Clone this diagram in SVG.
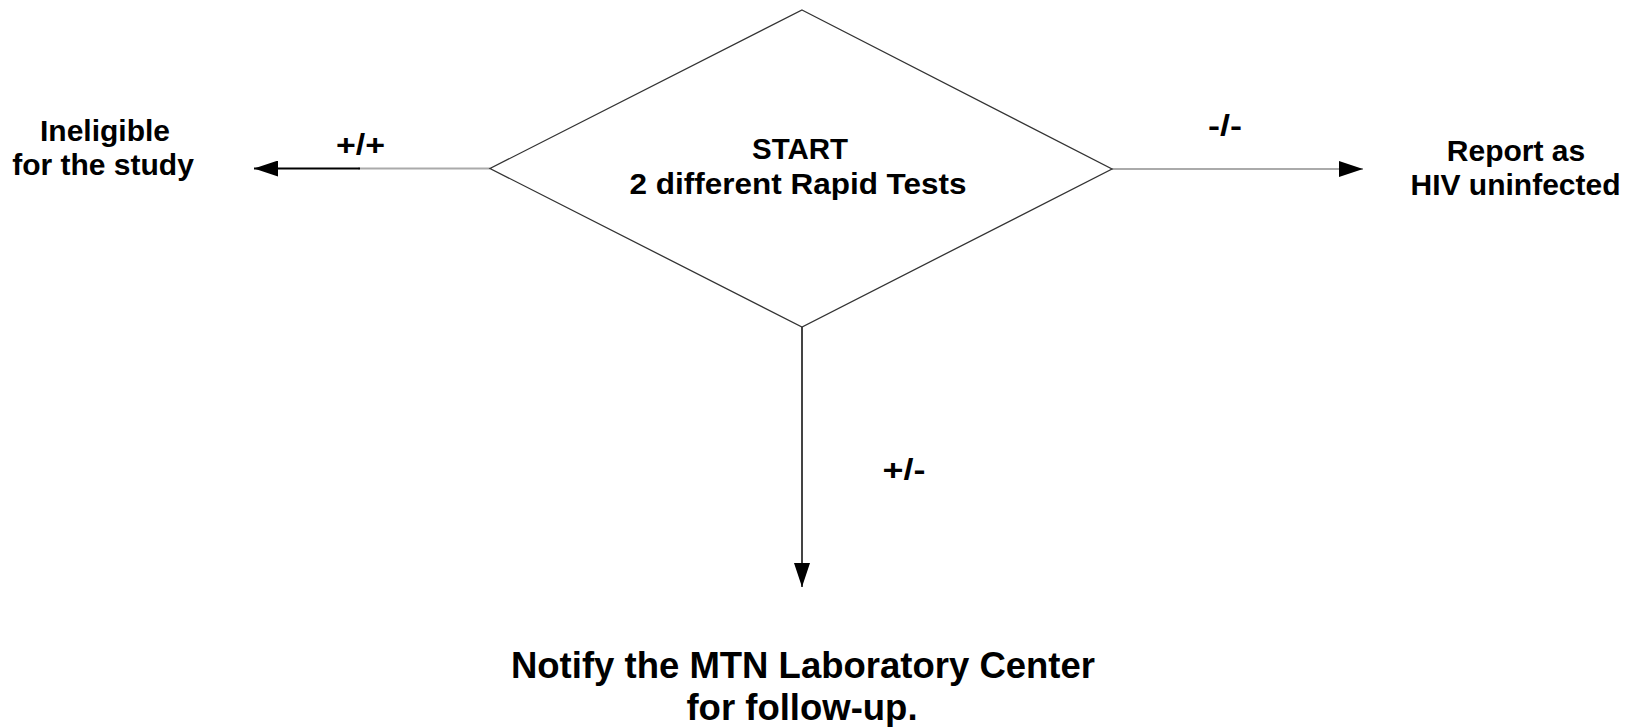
<svg xmlns="http://www.w3.org/2000/svg" width="1636" height="727" viewBox="0 0 1636 727">
<style>
text{font-family:"Liberation Sans",Arial,sans-serif;font-weight:bold;font-size:30px;fill:#000;text-anchor:middle}
.big{font-size:36.5px}
.shape{fill:#fff;stroke:#333;stroke-width:1.3}
.conn{fill:none;stroke-width:2}
</style>
<defs>
<marker id="arr" viewBox="0 0 24 16" refX="24" refY="8" markerWidth="24" markerHeight="16" markerUnits="userSpaceOnUse" orient="auto">
<path d="M0,0 L24,8 L0,16 Z" fill="#000"/>
</marker>
</defs>
<rect width="1636" height="727" fill="#fff"/>
<g id="connectors">
<line class="conn" x1="490" y1="168.5" x2="358" y2="168.5" stroke="#aaa"/>
<line class="conn" x1="360" y1="168.5" x2="254" y2="168.5" stroke="#000" marker-end="url(#arr)"/>
<line class="conn" x1="1112" y1="169" x2="1363" y2="169" stroke="#aaa" marker-end="url(#arr)"/>
<line class="conn" x1="802" y1="327" x2="802" y2="587" stroke="#444" marker-end="url(#arr)"/>
<text x="360.5" y="155" textLength="49" lengthAdjust="spacingAndGlyphs">+/+</text>
<text x="1225" y="136" textLength="34" lengthAdjust="spacingAndGlyphs">-/-</text>
<text x="904" y="480" textLength="43" lengthAdjust="spacingAndGlyphs">+/-</text>
</g>
<g id="start">
<polygon class="shape" points="802,10 1112,169 802,327 490,168.5"/>
<text x="800" y="159" textLength="96" lengthAdjust="spacingAndGlyphs">START</text>
<text x="798" y="194" textLength="337" lengthAdjust="spacingAndGlyphs">2 different Rapid Tests</text>
</g>
<g id="ineligible">
<text x="105" y="141">Ineligible</text>
<text x="103" y="175">for the study</text>
</g>
<g id="report">
<text x="1516" y="161">Report as</text>
<text x="1515.5" y="195">HIV uninfected</text>
</g>
<g id="notify">
<text class="big" x="803" y="678">Notify the MTN Laboratory Center</text>
<text class="big" x="802" y="720">for follow-up.</text>
</g>
</svg>
